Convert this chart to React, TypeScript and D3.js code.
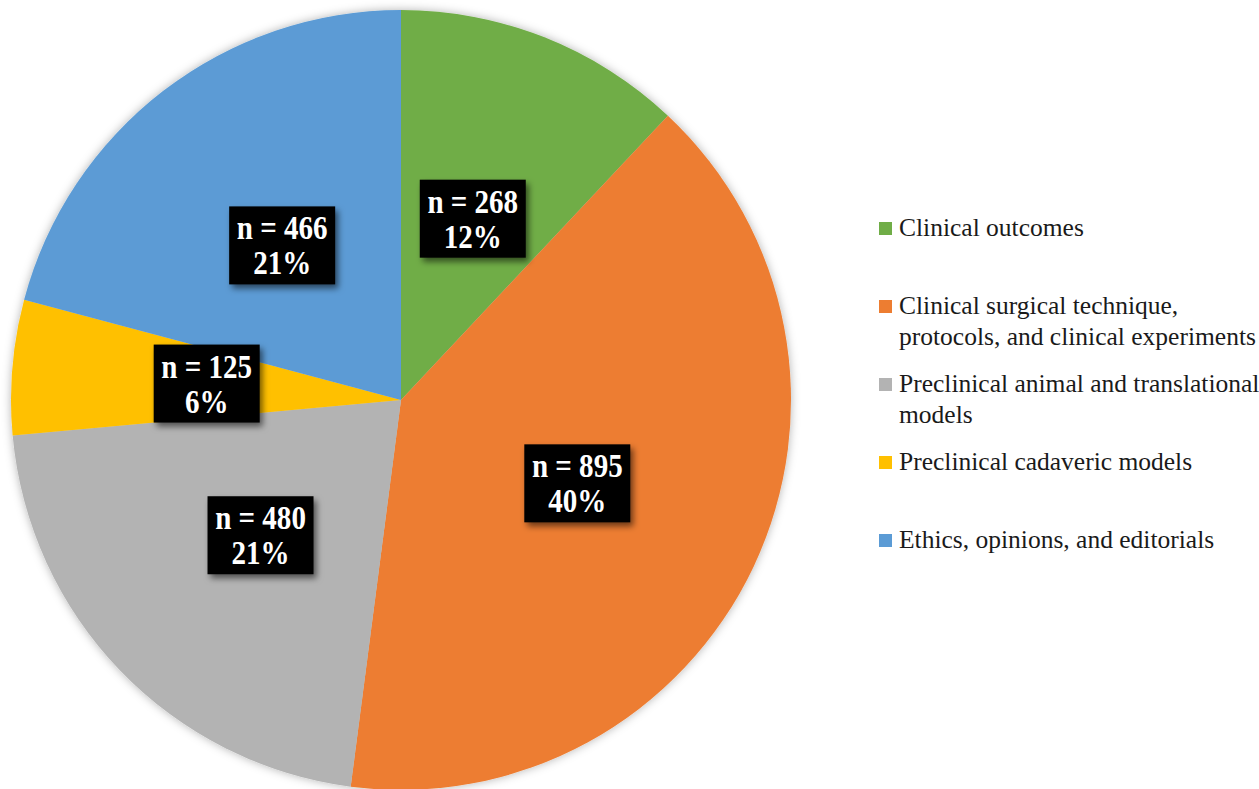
import React from "react";
import * as d3 from "d3";

const categories = [
  "Clinical outcomes",
  "Clinical surgical technique, protocols, and clinical experiments",
  "Preclinical animal and translational models",
  "Preclinical cadaveric models",
  "Ethics, opinions, and editorials",
];
const legendLines = [
  ["Clinical outcomes"],
  ["Clinical surgical technique,", "protocols, and clinical experiments"],
  ["Preclinical animal and translational", "models"],
  ["Preclinical cadaveric models"],
  ["Ethics, opinions, and editorials"],
];
const counts = [268, 895, 480, 125, 466];
const percentLabels = ["12%", "40%", "21%", "6%", "21%"];
const colors = ["#70AD47", "#ED7D31", "#B3B3B3", "#FFC000", "#5B9BD5"];

const W = 1259;
const H = 789;
const CX = 401;
const CY = 400;
const R = 390;
const FONT = '"Liberation Serif", "DejaVu Serif", serif';

export default function App() {
  const pie = d3.pie<number>().sort(null).value((d) => d).startAngle(0).endAngle(2 * Math.PI);
  const arcs = pie(counts);
  const arc = d3.arc<d3.PieArcDatum<number>>().innerRadius(0).outerRadius(R);
  const legendY = d3.scaleLinear().domain([0, 4]).range([236, 548]);
  const boxW = 106;
  const boxH = 78;
  const sx = 0.88;

  return (
    <svg
      width={W}
      height={H}
      style={{ position: "absolute", left: 0, top: 0, background: "#fff" }}
    >
      <defs>
        <filter id="pieShadow" x="-10%" y="-10%" width="120%" height="120%">
          <feDropShadow dx="0" dy="0" stdDeviation="5" floodColor="#000" floodOpacity="0.3" />
        </filter>
        <filter id="boxShadow" x="-20%" y="-20%" width="150%" height="150%">
          <feDropShadow dx="3" dy="4" stdDeviation="3" floodColor="#000" floodOpacity="0.55" />
        </filter>
      </defs>
      <g transform={`translate(${CX},${CY})`}>
        <g filter="url(#pieShadow)">
          {arcs.map((a, i) => (
            <path key={i} d={arc(a) || ""} fill={colors[i]} />
          ))}
        </g>
        {arcs.map((a, i) => {
          const [x, y] = arc.centroid(a);
          return (
            <g key={"l" + i} transform={`translate(${x},${y})`}>
              <rect
                x={-boxW / 2}
                y={-boxH / 2}
                width={boxW}
                height={boxH}
                fill="#000"
                filter="url(#boxShadow)"
              />
              <g transform={`translate(0,-6) scale(${sx},1)`}>
                <text textAnchor="middle" fill="#fff" fontWeight="bold" fontSize={33} style={{ fontFamily: FONT }}>
                  {`n = ${counts[i]}`}
                </text>
              </g>
              <g transform={`translate(0,29) scale(${sx},1)`}>
                <text textAnchor="middle" fill="#fff" fontWeight="bold" fontSize={33} style={{ fontFamily: FONT }}>
                  {percentLabels[i]}
                </text>
              </g>
            </g>
          );
        })}
      </g>
      <g>
        {categories.map((c, i) => {
          const y = legendY(i);
          return (
            <g key={c}>
              <rect x={879} y={y - 14} width={13} height={13} fill={colors[i]} />
              {legendLines[i].map((line, j) => (
                <text
                  key={j}
                  x={899}
                  y={y + j * 31}
                  fontSize={25.5}
                  fill="#1a1a1a"
                  style={{ fontFamily: FONT }}
                >
                  {line}
                </text>
              ))}
            </g>
          );
        })}
      </g>
    </svg>
  );
}
